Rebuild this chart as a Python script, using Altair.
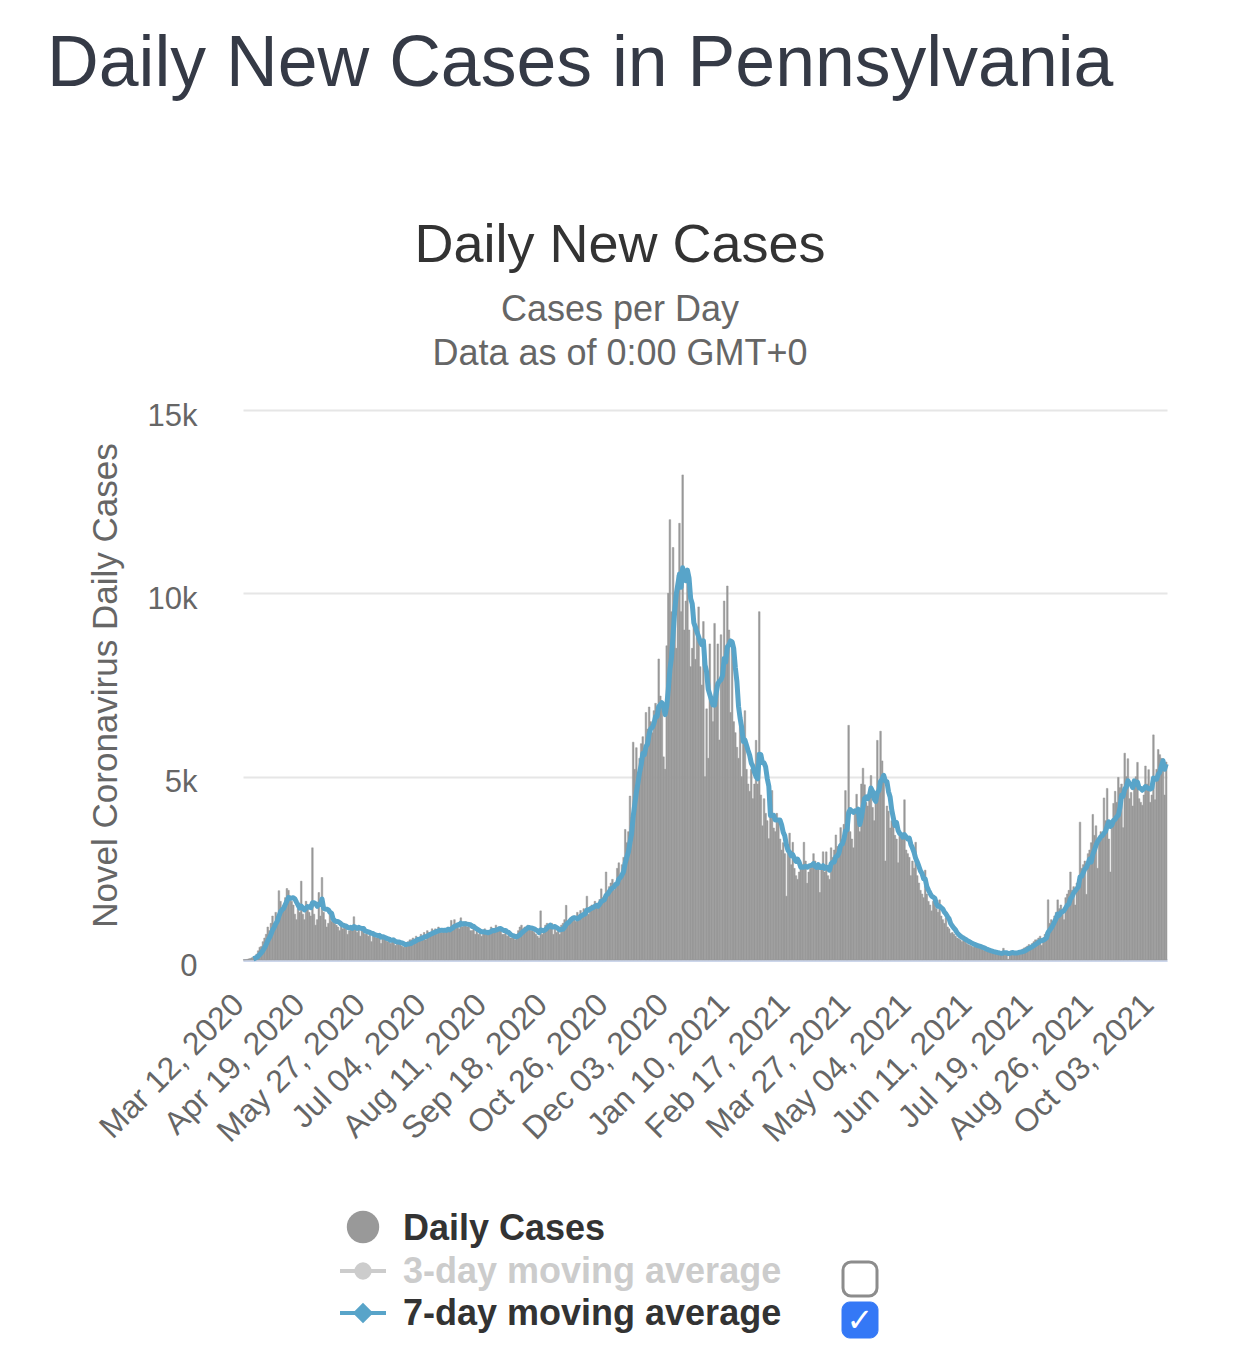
import altair as alt
import pandas as pd

# Daily new cases, one value per day starting Mar 12, 2020
cases = [
    5, 10, 15, 30, 40, 60, 80,
    100, 160, 250, 350, 370, 500, 600,
    700, 900, 800, 1000, 1200, 1000, 1300,
    1200, 1890, 1600, 1400, 1500, 1700, 1950,
    1900, 1750, 1600, 1500, 1250, 1100, 1400,
    1300, 2150, 1250, 1100, 1600, 1400, 1300,
    1200, 3060, 1250, 950, 1100, 1840, 1200,
    2250, 1300, 1100, 900, 1000, 1350, 1050,
    1100, 1000, 950, 900, 800, 1050, 850,
    1000, 950, 700, 800, 900, 850, 1180,
    850, 750, 900, 650, 800, 900, 700,
    750, 650, 800, 500, 750, 700, 600,
    650, 700, 450, 600, 650, 550, 500,
    550, 450, 500, 600, 400, 450, 500,
    450, 380, 350, 450, 400, 500, 550,
    550, 600, 450, 650, 600, 550, 700,
    650, 750, 550, 800, 750, 700, 850,
    800, 850, 700, 900, 850, 750, 800,
    850, 800, 900, 800, 1080, 900, 1100,
    950, 1000, 850, 1150, 900, 1000, 1050,
    900, 950, 800, 800, 950, 700, 850,
    700, 750, 650, 800, 850, 700, 750,
    800, 900, 850, 750, 950, 800, 900,
    850, 700, 700, 750, 650, 700, 600,
    600, 650, 550, 700, 800, 900, 950,
    850, 900, 800, 950, 850, 800, 900,
    750, 700, 650, 600, 1340, 700, 850,
    950, 1000, 950, 850, 1000, 700, 950,
    750, 800, 700, 950, 1000, 1100, 1490,
    1050, 1000, 1100, 1200, 1150, 1050, 1300,
    1200, 1350, 1250, 1400, 1300, 1740, 1250,
    1450, 1500, 1400, 1600, 1500, 1550, 1650,
    1940, 1700, 1600, 2400, 1750, 2000, 2100,
    2200, 1900, 2100, 2500, 2650, 2300, 2600,
    2800, 3560, 3200, 3500, 4470, 3900, 5940,
    5200, 5790, 5000, 5500, 5900, 6090, 5700,
    6750, 6300, 6900, 6500, 6200, 6800, 7000,
    6800, 8210, 7200, 6900, 5540, 5200, 8570,
    10000, 12010, 9500, 11250, 10000, 8500, 10500,
    11910, 9500, 13230, 9000, 9790, 10500, 9000,
    8000, 8500, 9580, 8200, 8800, 9630, 8000,
    7500, 9230, 5000, 6850, 5500, 8620, 7000,
    6500, 9180, 7300, 8620, 6000, 8870, 7800,
    9790, 8500, 10200, 9000, 6750, 8700, 6500,
    6200, 5800, 5500, 6700, 5000, 6000, 6800,
    5200, 4800, 4600, 5200, 4400, 4800, 5990,
    4800, 9500, 4500, 3660, 4400, 4000, 3800,
    3310, 3900, 4620, 3600, 3500, 4000, 3800,
    3300, 3000, 3200, 2900, 1740, 3000, 3460,
    2600, 3210, 2500, 2300, 2200, 2400, 2500,
    2600, 3210, 2700, 2090, 2400, 2500, 2600,
    2900, 2700, 2500, 2600, 1840, 2500, 2950,
    2400, 2950, 2300, 2200, 3060, 2800, 3000,
    3410, 3100, 2900, 3610, 3300, 3700, 4620,
    3600, 6400, 3500, 3300, 3060, 4000, 4520,
    4000, 3500, 4800, 5230, 4780, 4300, 4200,
    4500, 5030, 4160, 3800, 4300, 5990, 4600,
    6240, 5430, 4900, 2700, 4200, 4060, 3600,
    3800, 3900, 3400, 3300, 2650, 3500, 3400,
    3300, 4370, 3000, 2900, 2800, 2300, 2700,
    2500, 3210, 2300, 2100, 1900, 1800, 1700,
    2450, 1800, 1600, 1500, 1340, 1600, 1500,
    1400, 1300, 1640, 1200, 1100, 1000, 1150,
    900, 850, 730, 750, 700, 650, 600,
    580, 550, 500, 600, 520, 450, 420,
    400, 380, 350, 450, 400, 330, 320,
    300, 280, 250, 270, 260, 220, 200,
    210, 190, 170, 200, 180, 160, 150,
    320, 200, 190, 20, 230, 250, 220,
    210, 200, 230, 150, 270, 300, 330,
    350, 380, 420, 300, 450, 500, 550,
    550, 600, 650, 400, 550, 700, 750,
    1640, 1000, 1100, 900, 1200, 1300, 1640,
    1400, 1500, 1300, 1100, 1700, 1800, 1900,
    2400, 1900, 2000, 1500, 2100, 2200, 3760,
    2500, 2600, 2700, 1790, 2900, 3000, 3200,
    3970, 3400, 3660, 2500, 3300, 3500, 3400,
    4420, 3800, 4680, 3300, 2400, 3800, 4270,
    4600, 4300, 4980, 4700, 4800, 3610, 5640,
    5000, 5490, 4400, 4570, 4200, 4900, 5000,
    5390, 4400, 4300, 4220, 4500, 5290, 4800,
    5190, 4300, 4500, 6140, 4370, 5200, 5740,
    5600, 5500, 5490, 4500, 5400,
]
start_date = "2020-03-12"
tick_labels = [
    "Mar 12, 2020", "Apr 19, 2020", "May 27, 2020", "Jul 04, 2020",
    "Aug 11, 2020", "Sep 18, 2020", "Oct 26, 2020", "Dec 03, 2020",
    "Jan 10, 2021", "Feb 17, 2021", "Mar 27, 2021", "May 04, 2021",
    "Jun 11, 2021", "Jul 19, 2021", "Aug 26, 2021", "Oct 03, 2021",
]
y_ticks = [0, 5000, 10000, 15000]

page_title = "Daily New Cases in Pennsylvania"
chart_title = "Daily New Cases"
subtitle_lines = ["Cases per Day", "Data as of 0:00 GMT+0"]
y_title = "Novel Coronavirus Daily Cases"
legend_labels = ["Daily Cases", "3-day moving average", "7-day moving average"]

dates = pd.date_range(start_date, periods=len(cases), freq="D")
df = pd.DataFrame({"i": list(range(len(cases))),
                   "day": dates.strftime("%b %d, %Y"),
                   "cases": cases})

W, H = 924, 550
FONT = "Liberation Sans"
BAR = "#999999"
LINE = "#58a4c9"

xsort = alt.EncodingSortField(field="i", op="min")
xscale = alt.Scale(paddingInner=0, paddingOuter=0)
yscale = alt.Scale(domain=[0, 15000], nice=False)

xaxis = alt.Axis(values=tick_labels, labelAngle=-45, labelAlign="right",
                 labelBaseline="middle", labelPadding=39, labelOffset=-5,
                 labelFontSize=32, labelColor="#666666", labelFont=FONT,
                 labelLimit=0, labelOverlap=False, ticks=False,
                 domainColor="#ccd6eb", domainWidth=3, grid=False, title=None)
yaxis = alt.Axis(values=y_ticks,
                 labelExpr="datum.value == 0 ? '0' : format(datum.value / 1000, 'd') + 'k'",
                 labelFontSize=31, labelColor="#666666", labelFont=FONT,
                 labelPadding=46, labelOffset=6, ticks=False, domain=False,
                 gridColor="#e6e6e6", gridWidth=2,
                 title=y_title, titleFont=FONT, titleFontSize=35,
                 titleColor="#666666", titleFontWeight="normal",
                 titleAngle=-90, titleX=-127, titleY=275,
                 titleAlign="center", titleBaseline="alphabetic")

base = alt.Chart(df).transform_window(
    ma="mean(cases)", frame=[-6, 0], sort=[alt.SortField("i")]
)

bars = base.mark_bar(color=BAR, opacity=1, stroke=BAR, strokeWidth=0.5).encode(
    x=alt.X("day:O", sort=xsort, scale=xscale, axis=xaxis),
    y=alt.Y("cases:Q", scale=yscale, axis=yaxis),
)

# the 7-day average is drawn once a full 7-day window exists
line = base.transform_filter("datum.i >= 6").mark_line(
    color=LINE, strokeWidth=5, strokeJoin="round"
).encode(
    x=alt.X("day:O", sort=xsort, scale=xscale, axis=xaxis),
    y=alt.Y("ma:Q", scale=yscale, axis=yaxis),
)

one = alt.Data(values=[{"a": 1}])


def txt(text, x, y, size, color, weight="normal", align="left", font=FONT,
        baseline="alphabetic"):
    return alt.Chart(one).mark_text(
        text=text, align=align, baseline=baseline, fontSize=size, font=font,
        fontWeight=weight, color=color
    ).encode(x=alt.value(x), y=alt.value(y))


def pt(x, y, shape, size, color):
    return alt.Chart(one).mark_point(
        shape=shape, filled=True, size=size, color=color, opacity=1
    ).encode(x=alt.value(x), y=alt.value(y))


def hrule(x1, x2, y, color, width):
    return alt.Chart(one).mark_rule(color=color, strokeWidth=width).encode(
        x=alt.value(x1), x2=alt.value(x2), y=alt.value(y))


def box(x1, x2, y1, y2, fill, stroke, sw):
    return alt.Chart(one).mark_rect(
        cornerRadius=8, fill=fill, stroke=stroke, strokeWidth=sw
    ).encode(x=alt.value(x1), x2=alt.value(x2), y=alt.value(y1), y2=alt.value(y2))


texts = [
    txt(page_title, -196, -324, 71.6, "#353a46"),
    txt(chart_title, 377, -148, 54, "#333333", align="center"),
    txt(subtitle_lines[0], 377, -89, 36, "#666666", align="center"),
    txt(subtitle_lines[1], 377, -45, 36, "#666666", align="center"),
    # legend
    pt(120, 817, "circle", 1050, BAR),
    txt(legend_labels[0], 160, 830, 36, "#333333", weight="bold"),
    hrule(97, 143, 861, "#cccccc", 4),
    pt(120, 861, "circle", 300, "#cccccc"),
    txt(legend_labels[1], 160, 873, 36, "#cccccc", weight="bold"),
    hrule(97, 143, 903, LINE, 4),
    pt(120, 903, "diamond", 420, LINE),
    txt(legend_labels[2], 160, 915, 36, "#333333", weight="bold"),
    box(600, 634, 852, 886, "#ffffff", "#8c8c8c", 3),
    box(599, 635, 892, 928, "#3478f6", "#3478f6", 1),
    txt("\u2713", 617, 911, 32, "#ffffff", align="center",
        font="DejaVu Sans", baseline="middle"),
]

chart = alt.layer(bars, line, *texts).properties(
    width=W, height=H,
    autosize=alt.AutoSizeParams(type="none"),
    padding={"left": 235, "top": 402, "right": 67, "bottom": 393},
).configure_view(stroke=None)

chart.save("out.html", embed_options={"renderer": "svg", "actions": False})
